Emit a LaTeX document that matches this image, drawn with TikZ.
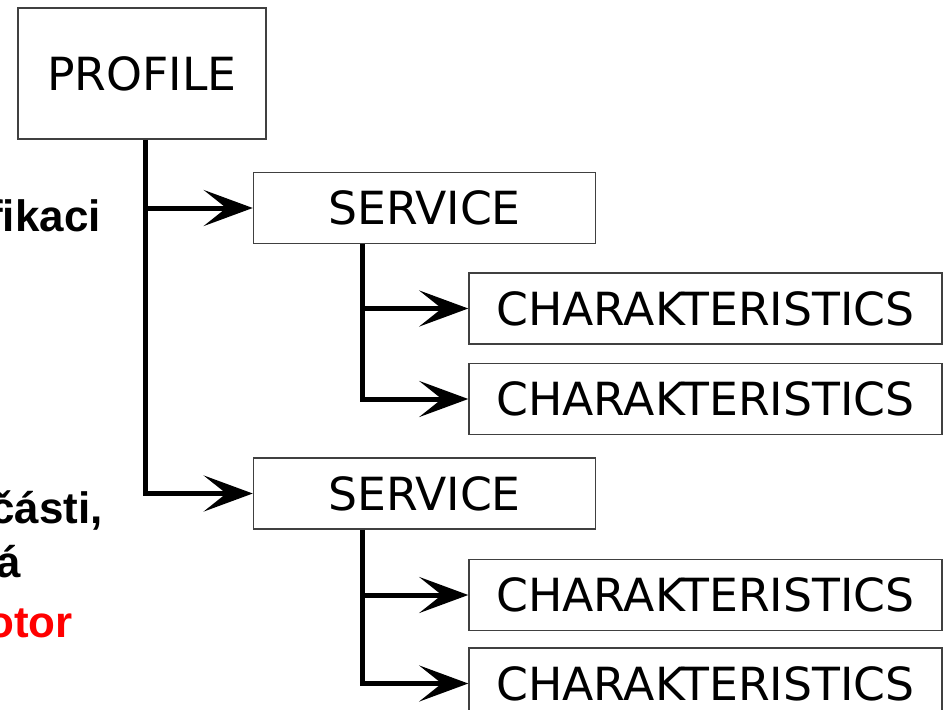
\documentclass[tikz,border=0pt]{standalone}
\usepackage{fontspec}
\setmainfont{DejaVu Sans}
\newfontfamily\sidefont{Liberation Sans}
\usepackage{xcolor}
\usepackage{tikz}
\usetikzlibrary{arrows.meta, positioning}
\tikzstyle{box} = [rectangle, draw=black!75, line width=0.03cm, inner sep=0pt, font=\fontsize{26}{30}\selectfont]
\tikzstyle{profilebox} = [box, minimum width=4.96cm, minimum height=2.62cm]
\tikzstyle{servicebox} = [box, minimum width=6.84cm, minimum height=1.42cm]
\tikzstyle{charbox} = [box, minimum width=9.46cm, minimum height=1.42cm]
\tikzstyle{sidetext} = [anchor=base east, inner sep=0pt, font=\sidefont\bfseries\fontsize{25}{29}\selectfont]
\tikzstyle{arrow} = [-{Stealth[length=0.98cm, width=0.72cm, inset=0.45cm]}, line width=0.1cm]

\begin{document}
\begin{tikzpicture}
\useasboundingbox (0,0) rectangle (18.96,-14.2);
\clip (0,0) rectangle (18.96,-14.2);

% Cut-off text on the left edge
\node[sidetext] (txt1) at (2.02,-4.62) {fikaci};
\node[sidetext] (txt2) at (2.06,-10.46) {části,};
\node[sidetext] (txt3) at (0.42,-11.54) {á};
\node[sidetext, text=red] (txt4) at (1.46,-12.74) {otor};

% Profile and services
\node[profilebox] (profile) at (2.84,-1.47) {PROFILE};
\node[servicebox, below right=0.64cm and -0.28cm of profile] (service1) {SERVICE};
\node[servicebox, below=4.26cm of service1] (service2) {SERVICE};

% Characteristics of first service
\node[charbox, below right=0.56cm and -2.56cm of service1] (char1) {CHARAKTERISTICS};
\node[charbox, below=0.36cm of char1] (char2) {CHARAKTERISTICS};

% Characteristics of second service
\node[charbox, below right=0.58cm and -2.56cm of service2] (char3) {CHARAKTERISTICS};
\node[charbox, below=0.32cm of char3] (char4) {CHARAKTERISTICS};

% Profile to services
\draw[arrow] ([xshift=0.06cm]profile.south) |- (service1.west);
\draw[arrow] ([xshift=0.06cm]profile.south) |- (service2.west);

% Services to characteristics
\draw[arrow] ([xshift=2.2cm]service1.south west) |- (char1.west);
\draw[arrow] ([xshift=2.2cm]service1.south west) |- (char2.west);
\draw[arrow] ([xshift=2.2cm]service2.south west) |- (char3.west);
\draw[arrow] ([xshift=2.2cm]service2.south west) |- (char4.west);

\end{tikzpicture}
\end{document}
